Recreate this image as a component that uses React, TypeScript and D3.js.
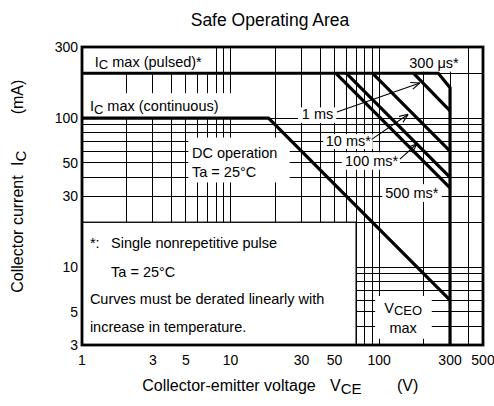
import React from "react";
import * as d3 from "d3";

const W = 494;
const H = 406;
const FONT = "'Liberation Sans', Arial, sans-serif";

// axis ticks and grid (log grid of the datasheet)
const xTickLabels = [1, 3, 5, 10, 30, 50, 100, 300, 500];
const yTickLabels = [3, 5, 10, 30, 50, 100, 300];
const xGrid = [1, 2, 3, 4, 5, 6, 7, 8, 9, 10, 20, 30, 40, 50, 60, 70, 80, 90, 100, 200, 300, 400, 500];
const yGrid = [3, 4, 5, 6, 7, 8, 9, 10, 20, 30, 40, 50, 60, 70, 80, 90, 100, 200, 300];

// SOA boundaries, [VCE (V), IC (mA)]
const dcCurve = [[1, 100], [18, 100], [300, 6]];
const us300Curve = [[1, 200], [250, 200], [300, 160], [300, 3]];
const ms1Curve = [[170, 200], [300, 112]];
const ms10Curve = [[90, 200], [300, 60]];
const ms100Curve = [[60, 200], [300, 40]];
const ms500Curve = [[51, 200], [300, 34]];
const curves = [dcCurve, us300Curve, ms1Curve, ms10Curve, ms100Curve, ms500Curve];

// white backgrounds behind labels: [V0, V1, Itop, Ibottom]
const labelMasks = [
  [1, 7.5, 295, 200],
  [1, 10.9, 147, 100],
  [5.2, 25, 74, 37],
  [28.4, 51.4, 118, 93],
  [42, 90.6, 78, 62],
  [56, 138, 59, 45],
  [105, 264, 36, 27.4],
  [149, 367, 295, 205],
  [94, 226, 6.4, 3.3],
];
const noteBox = [1, 70, 20, 3];

// arrows: [fromV, fromI, toV, toI]
const arrows = [
  [52, 110, 188, 172],
  [89, 72, 157, 106],
  [138, 53, 179, 67],
];

export default function App() {
  const x = d3.scaleLog().domain([1, 500]).range([82, 483]);
  const y = d3.scaleLog().domain([3, 300]).range([345, 47]);
  const line = d3.line<number[]>().x((d) => x(d[0])).y((d) => y(d[1]));

  const rectOf = (b: number[]) => ({
    x: x(b[0]),
    y: y(b[2]),
    width: x(b[1]) - x(b[0]),
    height: y(b[3]) - y(b[2]),
  });

  const lbl = { fontFamily: FONT, fontSize: 14.5, fill: "#000" } as const;

  return (
    <svg
      width={W}
      height={H}
      style={{ position: "absolute", left: 0, top: 0, background: "#fff" }}
    >
      <defs>
        <marker id="ah" viewBox="0 0 10 10" refX="10" refY="5" markerWidth="9" markerHeight="9" orient="auto" markerUnits="userSpaceOnUse">
          <path d="M0,1 L10,5 L0,9" fill="none" stroke="#000" strokeWidth={1.2} />
        </marker>
      </defs>

      <text x={270} y={26} textAnchor="middle" fontFamily={FONT} fontSize={17.5}>
        Safe Operating Area
      </text>

      {/* grid */}
      <g stroke="#000" strokeWidth={1} shapeRendering="crispEdges">
        {xGrid.map((v) => (
          <line key={"gx" + v} x1={x(v)} x2={x(v)} y1={y(300)} y2={y(3)} />
        ))}
        {yGrid.map((v) => (
          <line key={"gy" + v} x1={x(1)} x2={x(500)} y1={y(v)} y2={y(v)} />
        ))}
      </g>

      {/* label backgrounds */}
      {labelMasks.map((b, i) => (
        <rect key={"m" + i} {...rectOf(b)} fill="#fff" />
      ))}
      <rect {...rectOf(noteBox)} fill="#fff" stroke="#000" strokeWidth={1.3} />

      {/* SOA curves */}
      {curves.map((c, i) => (
        <path key={"c" + i} d={line(c) || ""} fill="none" stroke="#000" strokeWidth={3.2} strokeLinejoin="miter" />
      ))}

      {/* frame */}
      <rect x={x(1)} y={y(300)} width={x(500) - x(1)} height={y(3) - y(300)} fill="none" stroke="#000" strokeWidth={2.8} />

      {/* arrows */}
      {arrows.map((a, i) => (
        <line key={"a" + i} x1={x(a[0])} y1={y(a[1])} x2={x(a[2])} y2={y(a[3])} stroke="#000" strokeWidth={1.1} markerEnd="url(#ah)" />
      ))}

      {/* tick labels */}
      {xTickLabels.map((v) => (
        <text key={"tx" + v} x={x(v)} y={365} textAnchor="middle" fontFamily={FONT} fontSize={14}>
          {v}
        </text>
      ))}
      {yTickLabels.map((v) => (
        <text key={"ty" + v} x={78} y={y(v)} textAnchor="end" dominantBaseline="central" fontFamily={FONT} fontSize={14}>
          {v}
        </text>
      ))}

      {/* curve labels */}
      <text x={x(1.22)} y={y(238)} dominantBaseline="central" {...lbl}>
        I<tspan fontSize={13} dy={2.5}>C</tspan>
        <tspan dy={-2.5}> max (pulsed)*</tspan>
      </text>
      <text x={x(1.13)} y={y(120)} dominantBaseline="central" {...lbl}>
        I<tspan fontSize={13} dy={2.5}>C</tspan>
        <tspan dy={-2.5}> max (continuous)</tspan>
      </text>
      <text x={x(5.5)} y={y(58)} dominantBaseline="central" {...lbl}>DC operation</text>
      <text x={x(5.5)} y={y(43.5)} dominantBaseline="central" {...lbl}>Ta = 25°C</text>
      <text x={x(38.5)} y={y(106)} textAnchor="middle" dominantBaseline="central" {...lbl}>1 ms</text>
      <text x={x(62)} y={y(70.5)} textAnchor="middle" dominantBaseline="central" {...lbl}>10 ms*</text>
      <text x={x(89)} y={y(51.8)} textAnchor="middle" dominantBaseline="central" {...lbl}>100 ms*</text>
      <text x={x(166)} y={y(31.6)} textAnchor="middle" dominantBaseline="central" {...lbl}>500 ms*</text>
      <text x={x(234)} y={y(233)} textAnchor="middle" dominantBaseline="central" {...lbl}>300 μs*</text>

      {/* note */}
      <text x={x(1.13)} y={y(14.4)} dominantBaseline="central" {...lbl}>*:</text>
      <text x={x(1.57)} y={y(14.4)} dominantBaseline="central" {...lbl}>Single nonrepetitive pulse</text>
      <text x={x(1.57)} y={y(9.3)} dominantBaseline="central" {...lbl}>Ta = 25°C</text>
      <text x={x(1.13)} y={y(6.08)} dominantBaseline="central" {...lbl}>Curves must be derated linearly with</text>
      <text x={x(1.13)} y={y(3.98)} dominantBaseline="central" {...lbl}>increase in temperature.</text>

      {/* VCEO max */}
      <text x={x(145)} y={y(5.3)} textAnchor="middle" dominantBaseline="central" {...lbl}>
        V<tspan fontSize={13} dy={2}>CEO</tspan>
      </text>
      <text x={x(145)} y={y(3.9)} textAnchor="middle" dominantBaseline="central" {...lbl}>max</text>

      {/* axis titles */}
      <text x={229} y={391} textAnchor="middle" fontFamily={FONT} fontSize={16}>Collector-emitter voltage</text>
      <text x={330} y={391} fontFamily={FONT} fontSize={16}>
        V<tspan fontSize={15} dy={3}>CE</tspan>
      </text>
      <text x={397} y={391} fontFamily={FONT} fontSize={16}>(V)</text>

      <text transform="translate(23,234) rotate(-90)" textAnchor="middle" fontFamily={FONT} fontSize={16}>Collector current</text>
      <text transform="translate(23,166) rotate(-90)" fontFamily={FONT} fontSize={16}>
        I<tspan fontSize={15} dy={3}>C</tspan>
      </text>
      <text transform="translate(23,97) rotate(-90)" textAnchor="middle" fontFamily={FONT} fontSize={16}>(mA)</text>
    </svg>
  );
}
